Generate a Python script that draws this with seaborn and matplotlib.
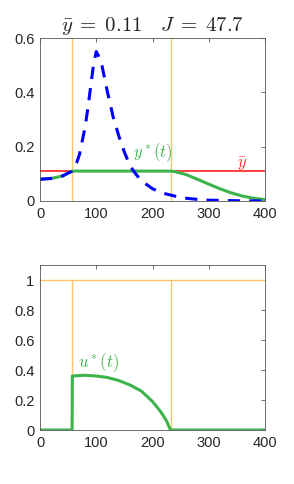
import numpy as np
import pandas as pd
import matplotlib
matplotlib.use('Agg')
import matplotlib.pyplot as plt
import seaborn as sns

# uncontrolled epidemic (dashed blue)
t_free = [0, 20, 40, 57, 65, 70, 75, 80, 85, 90, 95, 100, 105, 110, 120, 130, 140, 150,
          160, 170, 180, 200, 220, 240, 260, 280, 300, 350, 400]
y_free = [0.08, 0.083, 0.092, 0.11, 0.14, 0.17, 0.22, 0.27, 0.34, 0.42, 0.50, 0.55, 0.53, 0.50,
          0.40, 0.31, 0.24, 0.18, 0.13, 0.10, 0.075, 0.045, 0.028, 0.018, 0.01, 0.006, 0.003, 0.001, 0.0]

# optimal trajectory y*(t)
t_opt = [0, 20, 40, 57, 100, 150, 200, 232, 240, 260, 280, 300, 320, 340, 360, 380, 400]
y_opt = [0.08, 0.083, 0.092, 0.11, 0.11, 0.11, 0.11, 0.11, 0.108, 0.097, 0.08, 0.062,
         0.045, 0.03, 0.018, 0.01, 0.005]

# optimal control u*(t)
t_u = [0, 57, 57.5, 80, 100, 120, 140, 160, 180, 200, 215, 225, 232, 300, 400]
u_opt = [0, 0, 0.36, 0.365, 0.36, 0.35, 0.33, 0.30, 0.26, 0.19, 0.12, 0.06, 0, 0, 0]

y_bar = 0.11
u_max = 1.0
t_switch = [57, 232]
J = 47.7

blue = '#0000ff'
green = '#3cb44b'
red = '#ff3030'
orange = '#ffc36b'

sns.set_style('white')
plt.rcParams['mathtext.fontset'] = 'cm'
plt.rcParams['font.family'] = ['Liberation Sans', 'DejaVu Sans']

fig = plt.figure(figsize=(2.94, 4.84), dpi=100)
ax1 = fig.add_axes([40/294, 1-201/484, 225/294, 163/484])
ax2 = fig.add_axes([40/294, 1-430/484, 225/294, 165/484])

# top panel
for ts in t_switch:
    ax1.axvline(ts, color=orange, lw=1)
sns.lineplot(x=[0, 400], y=[y_bar, y_bar], ax=ax1, color=red, lw=1.3)
sns.lineplot(x=t_opt, y=y_opt, ax=ax1, color=green, lw=2.2)
sns.lineplot(x=t_free, y=y_free, ax=ax1, color=blue, lw=2.2, linestyle=(0, (4, 3)))
ax1.text(165, 0.16, r'$y^*(t)$', color=green, fontsize=12)
ax1.text(350, 0.122, r'$\bar{y}$', color=red, fontsize=12)
ax1.set_xlim(0, 400)
ax1.set_ylim(0, 0.6)
ax1.set_yticks([0, 0.2, 0.4, 0.6])
ax1.set_yticklabels(['0', '0.2', '0.4', '0.6'])
ax1.set_title(r'$\bar{y}\;=\;0.11\quad J\;=\;%.1f$' % J, fontsize=15, pad=5)

# bottom panel
for ts in t_switch:
    ax2.plot([ts, ts], [0, u_max], color=orange, lw=1)
ax2.axhline(u_max, color=orange, lw=1)
sns.lineplot(x=t_u, y=u_opt, ax=ax2, color=green, lw=2.2)
ax2.text(68, 0.42, r'$u^*(t)$', color=green, fontsize=12)
ax2.set_xlim(0, 400)
ax2.set_ylim(0, 1.1)
ax2.set_yticks([0, 0.2, 0.4, 0.6, 0.8, 1])
ax2.set_yticklabels(['0', '0.2', '0.4', '0.6', '0.8', '1'])

for ax in (ax1, ax2):
    ax.set_xticks([0, 100, 200, 300, 400])
    ax.tick_params(direction='in', length=3, labelsize=10.5, top=True, right=True,
                   color='#555555', width=0.6, pad=4)
    for s in ax.spines.values():
        s.set_color('#555555')
        s.set_linewidth(0.6)

fig.savefig('out.png', dpi=100)
